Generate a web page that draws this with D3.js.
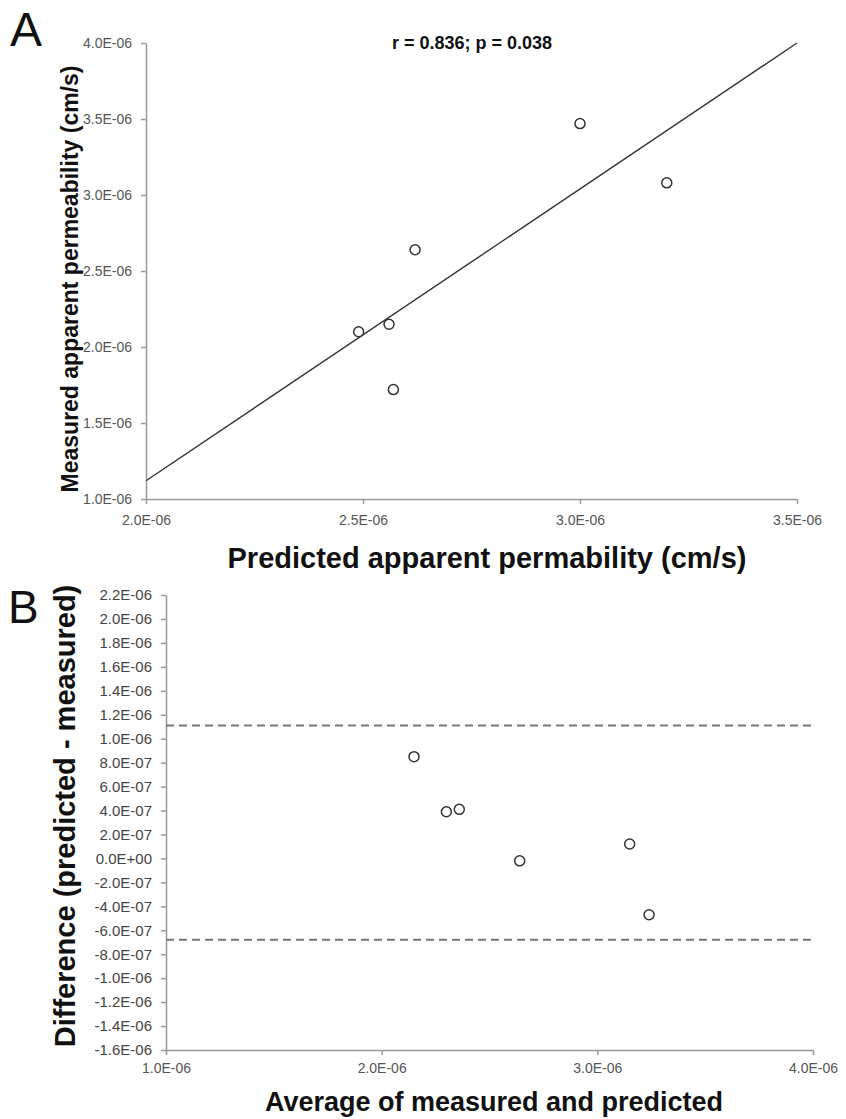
<!DOCTYPE html>
<html>
<head>
<style>
  body { margin: 0; background: #fff; }
  .tick text { font-family: "Liberation Sans", Arial, sans-serif; fill: #555; }
  .tick line, .domain { stroke: #999; stroke-width: 1.5; }
  .title { font-family: "Liberation Sans", Arial, sans-serif; font-weight: bold; fill: #111; }
  .panel { font-family: "Liberation Sans", Arial, sans-serif; fill: #111; }
</style>
<script src="https://d3js.org/d3.v7.min.js"></script>
</head>
<body>
<div class="container"></div>
<script>
// panel A: predicted vs measured permeability
var predicted = [2.49e-6, 2.56e-6, 2.57e-6, 2.62e-6, 3.00e-6, 3.20e-6];
var measured  = [2.10e-6, 2.15e-6, 1.72e-6, 2.64e-6, 3.47e-6, 3.08e-6];
var trendX = [2.0e-6, 3.5e-6];
var trendY = [1.12e-6, 4.0e-6];
var aXTicks = [2.0e-6, 2.5e-6, 3.0e-6, 3.5e-6];
var aYTicks = [1.0e-6, 1.5e-6, 2.0e-6, 2.5e-6, 3.0e-6, 3.5e-6, 4.0e-6];
var statText = "r = 0.836; p = 0.038";

// panel B: Bland-Altman
var average    = [2.15e-6, 2.30e-6, 2.36e-6, 2.64e-6, 3.15e-6, 3.24e-6];
var difference = [0.85e-6, 0.39e-6, 0.41e-6, -0.02e-6, 0.12e-6, -0.47e-6];
var limits = [1.11e-6, -0.68e-6];
var bXTicks = [1.0e-6, 2.0e-6, 3.0e-6, 4.0e-6];
var bYTicks = [2.2e-6, 2.0e-6, 1.8e-6, 1.6e-6, 1.4e-6, 1.2e-6, 1.0e-6, 0.8e-6, 0.6e-6, 0.4e-6,
               0.2e-6, 0, -0.2e-6, -0.4e-6, -0.6e-6, -0.8e-6, -1.0e-6, -1.2e-6, -1.4e-6, -1.6e-6];

// 4.0E-06 style labels
function sci(v){
  var s = (Math.abs(v) < 1e-15 ? 0 : v).toExponential(1).toUpperCase();
  return s.replace(/E([+-])(\d)$/, "E$10$2");
}

var svg = d3.select(".container").append("svg")
  .attr("width", 846).attr("height", 1119);

// ---------- A ----------
var xA = d3.scaleLinear().domain([2.0e-6, 3.5e-6]).range([146, 797]);
var yA = d3.scaleLinear().domain([1.0e-6, 4.0e-6]).range([499, 43]);

svg.append("g").attr("transform", "translate(0,499)")
  .call(d3.axisBottom(xA).tickValues(aXTicks).tickFormat(sci).tickSize(5).tickPadding(11).tickSizeOuter(0))
  .selectAll("text").style("font-size", "14px");
svg.append("g").attr("transform", "translate(146,0)")
  .call(d3.axisLeft(yA).tickValues(aYTicks).tickFormat(sci).tickSize(5).tickPadding(9).tickSizeOuter(0))
  .selectAll("text").style("font-size", "14px");

svg.append("line")
  .attr("x1", xA(trendX[0])).attr("y1", yA(trendY[0]))
  .attr("x2", xA(trendX[1])).attr("y2", yA(trendY[1]))
  .attr("stroke", "#333").attr("stroke-width", 1.4);

svg.append("g").selectAll("circle")
  .data(predicted).enter().append("circle")
  .attr("cx", function(d){ return xA(d); })
  .attr("cy", function(d,i){ return yA(measured[i]); })
  .attr("r", 5)
  .attr("fill", "#fff").attr("stroke", "#333").attr("stroke-width", 1.5);

svg.append("text").attr("class", "title")
  .attr("x", 472).attr("y", 49).attr("text-anchor", "middle")
  .style("font-size", "18px").text(statText);

svg.append("text").attr("class", "title")
  .attr("transform", "translate(78,279) rotate(-90)")
  .attr("text-anchor", "middle").style("font-size", "23px")
  .text("Measured apparent permeability (cm/s)");
svg.append("text").attr("class", "title")
  .attr("x", 487).attr("y", 568).attr("text-anchor", "middle")
  .style("font-size", "29px").text("Predicted apparent permability (cm/s)");

svg.append("text").attr("class", "panel")
  .attr("x", 10).attr("y", 46).style("font-size", "48px").text("A");

// ---------- B ----------
var xB = d3.scaleLinear().domain([1.0e-6, 4.0e-6]).range([166, 813]);
var yB = d3.scaleLinear().domain([-1.6e-6, 2.2e-6]).range([1050, 595]);

svg.append("g").attr("transform", "translate(0,1050)")
  .call(d3.axisBottom(xB).tickValues(bXTicks).tickFormat(sci).tickSize(5).tickPadding(8).tickSizeOuter(0))
  .selectAll("text").style("font-size", "14px");
svg.append("g").attr("transform", "translate(166,0)")
  .call(d3.axisLeft(yB).tickValues(bYTicks).tickFormat(sci).tickSize(5).tickPadding(9).tickSizeOuter(0))
  .selectAll("text").style("font-size", "15px").style("fill", "#444");

svg.append("g").selectAll("line")
  .data(limits).enter().append("line")
  .attr("x1", xB(1.0e-6)).attr("x2", xB(4.0e-6))
  .attr("y1", function(d){ return yB(d); })
  .attr("y2", function(d){ return yB(d); })
  .attr("stroke", "#777").attr("stroke-width", 2)
  .attr("stroke-dasharray", "8,5");

svg.append("g").selectAll("circle")
  .data(average).enter().append("circle")
  .attr("cx", function(d){ return xB(d); })
  .attr("cy", function(d,i){ return yB(difference[i]); })
  .attr("r", 5)
  .attr("fill", "#fff").attr("stroke", "#333").attr("stroke-width", 1.5);

svg.append("text").attr("class", "title")
  .attr("transform", "translate(75,816) rotate(-90)")
  .attr("text-anchor", "middle").style("font-size", "29px")
  .text("Difference (predicted - measured)");
svg.append("text").attr("class", "title")
  .attr("x", 494).attr("y", 1111).attr("text-anchor", "middle")
  .style("font-size", "27px").text("Average of measured and predicted");

svg.append("text").attr("class", "panel")
  .attr("x", 8).attr("y", 623).style("font-size", "46px").text("B");
</script>
</body>
</html>
